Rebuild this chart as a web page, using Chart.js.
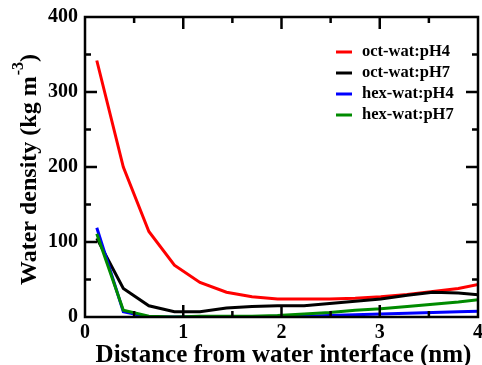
<!DOCTYPE html>
<html>
<head>
<meta charset="utf-8">
<script src="https://cdn.jsdelivr.net/npm/chart.js@4"></script>
<style>
  html, body { margin: 0; padding: 0; background: #fff; }
</style>
</head>
<body>
<canvas id="density" width="482" height="365"></canvas>
<script>
// distance from the water interface (nm)
const distance = [0.12, 0.39, 0.65, 0.91, 1.17, 1.44, 1.70, 1.96, 2.23, 2.49, 2.75, 3.01, 3.28, 3.54, 3.80, 4.06];

// water density (kg m^-3)
const octPH4 = [342, 200, 114, 69, 46, 33, 27, 24, 24, 24, 25, 27, 30, 34, 38, 45];
const octPH7 = [105, 38, 15, 7, 7, 12, 14, 15, 15, 18, 21, 24, 29, 33, 32, 29];
const hexPH4 = [119, 7, 0, 0, 0, 0, 0, 1, 1, 2, 3, 4, 5, 6, 7, 8];
const hexPH7 = [111, 9, 1, 0, 1, 1, 1, 2, 4, 6, 9, 11, 14, 17, 20, 24];

const seriesLabels = ['oct-wat:pH4', 'oct-wat:pH7', 'hex-wat:pH4', 'hex-wat:pH7'];
const seriesColors = ['#ff0000', '#000000', '#0000ff', '#008b00'];
const seriesValues = [octPH4, octPH7, hexPH4, hexPH7];

const xTitle = 'Distance from water interface (nm)';
const yTitle = 'Water density (kg m';

const SERIF = "'Liberation Serif', 'Times New Roman', serif";

/**
 * Frame with inward ticks, the legend inside the plot and both axis titles
 */
const gracePlugin = {
  id: 'grace',
  afterDraw(chart) {
    const ctx = chart.ctx;
    const a = chart.chartArea;
    const x = chart.scales.x;
    const y = chart.scales.y;

    ctx.save();
    ctx.setLineDash([]);
    ctx.globalAlpha = 1;
    ctx.globalCompositeOperation = 'source-over';
    ctx.strokeStyle = '#000000';
    ctx.lineWidth = 2.5;
    ctx.lineCap = 'butt';
    ctx.lineJoin = 'miter';

    const path = new Path2D();
    for (let v = 0; v <= 4.001; v += 0.5) {
      const px = x.getPixelForValue(v);
      const len = Math.abs(v - Math.round(v)) < 0.01 ? 12 : 6;
      path.moveTo(px, a.bottom);
      path.lineTo(px, a.bottom - len);
      path.moveTo(px, a.top);
      path.lineTo(px, a.top + len);
    }
    for (let v = 0; v <= 400; v += 50) {
      const py = y.getPixelForValue(v);
      const len = v % 100 === 0 ? 12 : 6;
      path.moveTo(a.left, py);
      path.lineTo(a.left + len, py);
      path.moveTo(a.right, py);
      path.lineTo(a.right - len, py);
    }
    path.rect(a.left, a.top, a.right - a.left, a.bottom - a.top);
    ctx.stroke(path);

    // legend
    ctx.font = `bold 16.5px ${SERIF}`;
    ctx.textBaseline = 'middle';
    ctx.textAlign = 'left';
    chart.data.datasets.forEach((ds, i) => {
      const rowY = 52 + i * 21;
      ctx.strokeStyle = ds.borderColor;
      ctx.lineWidth = 3;
      ctx.beginPath();
      ctx.moveTo(336, rowY);
      ctx.lineTo(352, rowY);
      ctx.stroke();
      ctx.fillStyle = '#000';
      ctx.fillText(ds.label, 362, rowY);
    });

    // x title
    ctx.fillStyle = '#000';
    ctx.font = `bold 25px ${SERIF}`;
    ctx.textBaseline = 'alphabetic';
    ctx.textAlign = 'center';
    ctx.fillText(xTitle, (a.left + a.right) / 2 + 2, 362);

    // y title with superscript
    ctx.translate(36, 285);
    ctx.rotate(-Math.PI / 2);
    ctx.textAlign = 'left';
    ctx.font = `bold 24px ${SERIF}`;
    ctx.fillText(yTitle, 0, 0);
    let w = ctx.measureText(yTitle).width;
    ctx.font = `bold 16px ${SERIF}`;
    ctx.fillText('-3', w + 1, -13);
    w += ctx.measureText('-3').width + 1;
    ctx.font = `bold 24px ${SERIF}`;
    ctx.fillText(')', w, 0);
    ctx.restore();
  },
};

const datasets = seriesValues.map((values, i) => ({
  label: seriesLabels[i],
  data: values.map((v, j) => ({ x: distance[j], y: v })),
  borderColor: seriesColors[i],
  borderWidth: 3,
  pointRadius: 0,
  tension: 0,
  fill: false,
  order: seriesValues.length - i,
}));

new Chart(document.getElementById('density'), {
  type: 'line',
  data: { datasets },
  options: {
    responsive: false,
    animation: false,
    devicePixelRatio: 1,
    layout: { padding: { top: 17, right: 4, left: 0, bottom: 0 } },
    plugins: {
      legend: { display: false },
      tooltip: { enabled: false },
    },
    scales: {
      x: {
        type: 'linear',
        min: 0,
        max: 4,
        grid: { display: false, drawTicks: false },
        border: { display: false },
        ticks: {
          stepSize: 1,
          padding: 4,
          maxRotation: 0,
          color: '#000',
          font: { family: SERIF, size: 20, weight: 'bold' },
        },
        afterFit: scale => {
          scale.height = 48;
          scale.paddingLeft = 0;
          scale.paddingRight = 0;
        },
      },
      y: {
        min: 0,
        max: 400,
        grid: { display: false, drawTicks: false },
        border: { display: false },
        ticks: {
          stepSize: 100,
          padding: 7,
          color: '#000',
          font: { family: SERIF, size: 20, weight: 'bold' },
        },
        afterFit: scale => {
          scale.width = 85;
          scale.paddingTop = 0;
          scale.paddingBottom = 0;
        },
      },
    },
  },
  plugins: [gracePlugin],
});
</script>
</body>
</html>
